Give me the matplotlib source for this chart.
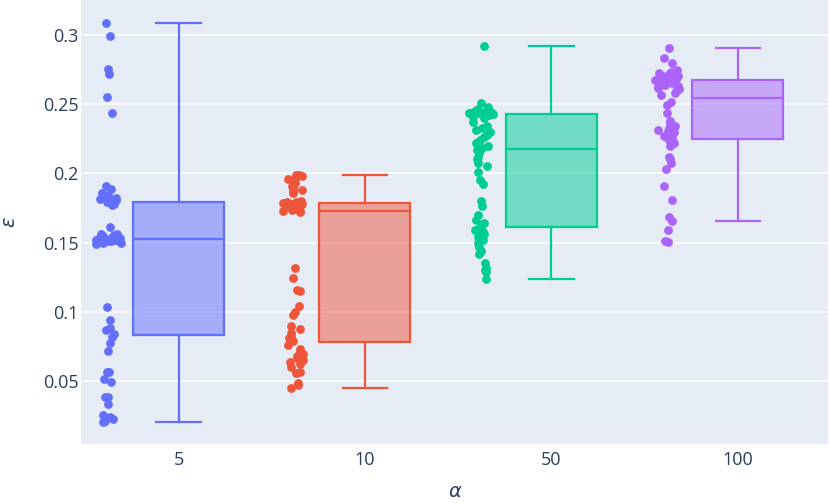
import numpy as np
import matplotlib
matplotlib.use('Agg')
from matplotlib import pyplot as plt
from matplotlib.colors import to_rgba

alphas = ['5', '10', '50', '100']
colors = ['#636efa', '#EF553B', '#00cc96', '#ab63fa']

eps_5 = [0.0207, 0.0216, 0.0226, 0.0240, 0.0260, 0.0337, 0.0385, 0.0390, 0.0498, 0.0517,
         0.0565, 0.0570, 0.0719, 0.0774, 0.0822, 0.0839, 0.0870, 0.0882, 0.0942, 0.1038,
         0.1490, 0.1495, 0.1500, 0.1505, 0.1510, 0.1512, 0.1515, 0.1518, 0.1520, 0.1522,
         0.1525, 0.1528, 0.1530, 0.1533, 0.1536, 0.1540, 0.1545, 0.1550, 0.1555, 0.1560,
         0.1566, 0.1615, 0.1775, 0.1780, 0.1790, 0.1800, 0.1808, 0.1815, 0.1822, 0.1830,
         0.1845, 0.1860, 0.1885, 0.1906, 0.2433, 0.2551, 0.2717, 0.2755, 0.2990, 0.3082]

eps_10 = [0.0455, 0.0470, 0.0486, 0.0560, 0.0570, 0.0606, 0.0625, 0.0640, 0.0655, 0.0670,
          0.0685, 0.0700, 0.0715, 0.0730, 0.0760, 0.0790, 0.0810, 0.0830, 0.0850, 0.0880,
          0.0900, 0.0975, 0.1002, 0.1046, 0.1150, 0.1160, 0.1248, 0.1315,
          0.1718, 0.1725, 0.1730, 0.1735, 0.1740, 0.1745, 0.1750, 0.1755, 0.1760, 0.1763,
          0.1766, 0.1770, 0.1773, 0.1776, 0.1779, 0.1782, 0.1785, 0.1790, 0.1795, 0.1800,
          0.1858, 0.1868, 0.1880, 0.1890, 0.1900, 0.1912, 0.1928, 0.1960, 0.1975, 0.1982,
          0.1986, 0.1991]

eps_50 = [0.1236, 0.1290, 0.1303, 0.1315, 0.1351, 0.1420, 0.1440, 0.1471, 0.1500, 0.1520,
          0.1543, 0.1560, 0.1575, 0.1590, 0.1600, 0.1615, 0.1640, 0.1664, 0.1700, 0.1765,
          0.1803, 0.1923, 0.1952, 0.2012, 0.2050, 0.2077, 0.2100, 0.2120, 0.2145, 0.2165,
          0.2181, 0.2200, 0.2220, 0.2241, 0.2260, 0.2280, 0.2300, 0.2313, 0.2325, 0.2340,
          0.2370, 0.2400, 0.2409, 0.2418, 0.2425, 0.2430, 0.2432, 0.2435, 0.2438, 0.2440,
          0.2442, 0.2444, 0.2446, 0.2448, 0.2450, 0.2455, 0.2462, 0.2475, 0.2510, 0.2921]

eps_100 = [0.1502, 0.1514, 0.1591, 0.1659, 0.1683, 0.1808, 0.1909, 0.2029, 0.2072, 0.2100,
           0.2116, 0.2200, 0.2217, 0.2230, 0.2241, 0.2250, 0.2260, 0.2272, 0.2283, 0.2289,
           0.2295, 0.2302, 0.2313, 0.2325, 0.2340, 0.2361, 0.2380, 0.2433, 0.2493, 0.2517,
           0.2565, 0.2580, 0.2595, 0.2605, 0.2613, 0.2622, 0.2630, 0.2638, 0.2645, 0.2649,
           0.2655, 0.2660, 0.2664, 0.2668, 0.2672, 0.2676, 0.2680, 0.2686, 0.2690, 0.2695,
           0.2700, 0.2705, 0.2710, 0.2715, 0.2722, 0.2730, 0.2745, 0.2798, 0.2834, 0.2904]

groups = [eps_5, eps_10, eps_50, eps_100]

TEXT = '#2a3f5f'
BG = '#E5ECF6'
LW = 1.6
plt.rcParams['font.family'] = ['Open Sans', 'DejaVu Sans']

fig = plt.figure(figsize=(8.3, 5.04), dpi=100)
ax = fig.add_axes([81 / 830, 60 / 504, 747 / 830, 444 / 504])
ax.set_facecolor(BG)

rng = np.random.default_rng(3)
for i, (vals, col) in enumerate(zip(groups, colors)):
    vals = np.array(vals)
    # jitter wider where points are dense, like plotly does
    dens = np.array([np.sum(np.abs(vals - v) < 0.006) for v in vals])
    spread = 0.02 + 0.05 * np.clip(dens / 14, 0, 1)
    xs = i - 0.375 + rng.uniform(-1, 1, len(vals)) * spread
    ax.scatter(xs, vals, s=40, color=col, linewidths=0, zorder=3)

    ax.boxplot([vals], positions=[i], widths=0.488, whis=1.5, patch_artist=True,
               capwidths=0.24, showfliers=False, manage_ticks=False,
               boxprops=dict(facecolor=to_rgba(col, 0.5), edgecolor=col, linewidth=LW),
               medianprops=dict(color=col, linewidth=LW),
               whiskerprops=dict(color=col, linewidth=LW),
               capprops=dict(color=col, linewidth=LW))

ax.set_xlim(-0.523, 3.483)
ax.set_ylim(0.0048, 0.325)
ax.set_xticks(range(len(alphas)))
ax.set_xticklabels(alphas)
ax.set_yticks([0.05, 0.1, 0.15, 0.2, 0.25, 0.3])
ax.set_yticklabels(['0.05', '0.1', '0.15', '0.2', '0.25', '0.3'])
ax.grid(axis='y', color='white', linewidth=1.1)
ax.set_axisbelow(True)
ax.tick_params(length=0, labelsize=13, labelcolor=TEXT)
ax.tick_params(axis='x', pad=5)
ax.tick_params(axis='y', pad=1.5)
for s in ax.spines.values():
    s.set_visible(False)

fig.text(455 / 830, 1 - 492 / 504, r'$\alpha$', ha='center', va='center', fontsize=14, color=TEXT)
fig.text(10 / 830, 1 - 222 / 504, r'$\varepsilon$', ha='center', va='center', fontsize=14,
         color=TEXT, rotation=90)

fig.savefig('out.png', dpi=100)
